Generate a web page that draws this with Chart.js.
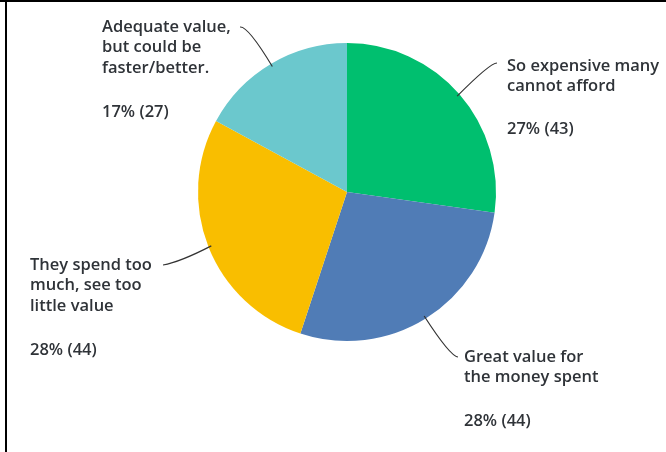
<!DOCTYPE html>
<html>
<head>
<meta charset="utf-8">
<script src="https://cdn.jsdelivr.net/npm/chart.js@4"></script>
<style>
  html, body { margin: 0; padding: 0; background: #fff; }
  #wrap { position: relative; width: 666px; height: 452px; overflow: hidden; }
  #frameTop { position: absolute; left: 0; top: 0; width: 666px; height: 2px; background: #000; }
  #frameLeft { position: absolute; left: 5px; top: 0; width: 2px; height: 452px; background: #000; }
  canvas { position: absolute; left: 0; top: 0; }
</style>
</head>
<body>
<div id="wrap">
  <canvas id="pie" width="666" height="452"></canvas>
  <div id="frameTop"></div>
  <div id="frameLeft"></div>
</div>
<script>
// Survey answers, clockwise from 12 o'clock
const categories = [
  ["So expensive many", "cannot afford"],
  ["Great value for", "the money spent"],
  ["They spend too", "much, see too", "little value"],
  ["Adequate value,", "but could be", "faster/better."]
];
const responses = [43, 44, 44, 27];
const sliceColors = ["#00BF6F", "#507CB6", "#F9BE00", "#6BC8CD"];

// Where each callout's text block sits and where its leader ends
const calloutLayout = [
  { textX: 507, firstLineY: 66, pctY: 129, endX: 497, endY: 63, bendX: 490, bendY: 63 },
  { textX: 464, firstLineY: 357, pctY: 421, endX: 458, endY: 357, bendX: 450, bendY: 356 },
  { textX: 30,  firstLineY: 265, pctY: 350, endX: 163, endY: 265, bendX: 180, bendY: 262 },
  { textX: 102, firstLineY: 27,  pctY: 112, endX: 240, endY: 27,  bendX: 248, bendY: 26 }
];
const lineGap = 20.7;

const total = responses.reduce((a, b) => a + b, 0);
const pctLabels = responses.map(v => Math.round(v / total * 100) + "% (" + v + ")");

const callouts = {
  id: "callouts",
  afterDatasetsDraw(chart) {
    const ctx = chart.ctx;
    const arcs = chart.getDatasetMeta(0).data;
    ctx.save();
    ctx.font = "600 16.5px 'Open Sans', sans-serif";
    ctx.fillStyle = "#2f3338";
    ctx.strokeStyle = "#333";
    ctx.lineWidth = 1.2;
    ctx.textBaseline = "middle";
    ctx.textAlign = "left";
    arcs.forEach((arc, i) => {
      const p = arc.getProps(["x", "y", "startAngle", "endAngle", "outerRadius"], true);
      const mid = (p.startAngle + p.endAngle) / 2;
      const sx = p.x + Math.cos(mid) * (p.outerRadius - 3);
      const sy = p.y + Math.sin(mid) * (p.outerRadius - 3);
      const L = calloutLayout[i];
      ctx.beginPath();
      ctx.moveTo(sx, sy);
      ctx.quadraticCurveTo(L.bendX, L.bendY, L.endX, L.endY);
      ctx.stroke();
      categories[i].forEach((line, k) => {
        ctx.fillText(line, L.textX, L.firstLineY + k * lineGap);
      });
      ctx.fillText(pctLabels[i], L.textX, L.pctY);
    });
    ctx.restore();
  }
};

new Chart(document.getElementById("pie"), {
  type: "pie",
  data: {
    labels: categories.map(c => c.join(" ")),
    datasets: [{
      data: responses,
      backgroundColor: sliceColors,
      borderWidth: 0
    }]
  },
  options: {
    responsive: false,
    animation: false,
    layout: { padding: { left: 198, right: 170, top: 43, bottom: 111 } },
    plugins: {
      legend: { display: false },
      tooltip: { enabled: false }
    }
  },
  plugins: [callouts]
});
</script>
</body>
</html>
